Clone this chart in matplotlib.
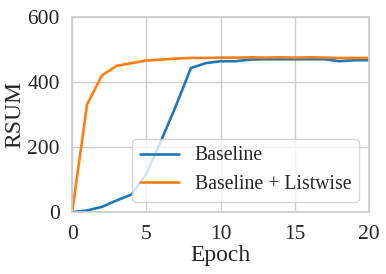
import numpy as np
import matplotlib
matplotlib.use("Agg")
import matplotlib.pyplot as plt
import seaborn as sns

sns.set_theme(style="whitegrid")
plt.rcParams['font.family'] = ['Liberation Serif', 'DejaVu Serif']

# data
epochs = list(range(21))
baseline = [0, 5, 16, 36, 54, 118, 220, 328, 443, 458, 464, 464, 469, 470, 470,
            470, 470, 470, 464, 467, 467]
listwise = [0, 331, 420, 450, 458, 466, 469, 472, 474, 474, 475, 475, 476, 475, 476,
            475, 476, 475, 474, 474, 474]

fig = plt.figure(figsize=(3.86, 2.74), dpi=100)
ax = fig.add_subplot(111)
fig.subplots_adjust(left=0.187, right=0.956, top=0.938, bottom=0.226)

ax.plot(epochs, baseline, color="#1f77b4", lw=1.9, label="Baseline")
ax.plot(epochs, listwise, color="#ff7f0e", lw=1.9, label="Baseline + Listwise")

ax.set_xlim(0, 20)
ax.set_ylim(0, 600)
ax.set_xticks([0, 5, 10, 15, 20])
ax.set_yticks([0, 200, 400, 600])
ax.tick_params(labelsize=15.5, pad=3)
ax.set_xlabel("Epoch", fontsize=17, labelpad=1)
ax.set_ylabel("RSUM", fontsize=17, labelpad=1)
ax.legend(loc="lower right", fontsize=14.2, borderaxespad=0.5)

fig.savefig("out.png", dpi=100)
